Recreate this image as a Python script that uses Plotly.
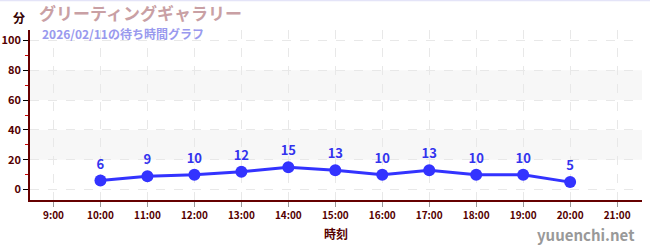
import plotly.graph_objects as go

hours = [10, 11, 12, 13, 14, 15, 16, 17, 18, 19, 20]
waits = [6, 9, 10, 12, 15, 13, 10, 13, 10, 10, 5]
tick_hours = list(range(9, 22))
tick_labels = [f"{h}:00" for h in tick_hours]
y_ticks = [0, 20, 40, 60, 80, 100]
bands = [(20, 40), (60, 80)]

W, H = 650, 250
ML, MR, MT, MB = 30, 8, 30, 50

fig = go.Figure()
for y0, y1 in bands:
    fig.add_hrect(y0=y0, y1=y1, fillcolor="#f7f7f7", line_width=0, layer="below")

fig.add_trace(go.Scatter(
    x=hours, y=waits, mode="lines+markers+text",
    line=dict(color="#3333ff", width=3),
    marker=dict(color="#3333ff", size=12),
    text=[f"<b>{v}</b>" for v in waits], textposition="top center",
    textfont=dict(color="#3333ee", size=13, family="Noto Sans CJK JP"),
    cliponaxis=False, hoverinfo="skip"))

fig.update_layout(
    width=W, height=H, margin=dict(l=ML, r=MR, t=MT, b=MB, autoexpand=False),
    plot_bgcolor="white", paper_bgcolor="white", showlegend=False,
    font=dict(family="Noto Sans CJK JP", color="#550000"),
    xaxis=dict(range=[8.5, 21.53], tickvals=tick_hours,
               ticktext=[f"<b>{t}</b>" for t in tick_labels], automargin=False,
               showgrid=True, gridcolor="#e8e8e8", griddash="dash", gridwidth=1,
               showline=True, linecolor="#660000", linewidth=1.5,
               ticks="outside", tickcolor="#999999", ticklen=5,
               tickfont=dict(size=10, color="#550000"), zeroline=False,
               title=dict(text="<b>時刻</b>", font=dict(size=12, color="#550000"), standoff=10)),
    yaxis=dict(range=[-7, 107], tickvals=y_ticks,
               ticktext=[f"<b>{v}</b>" for v in y_ticks], automargin=False,
               showgrid=True, gridcolor="#e8e8e8", griddash="dash", gridwidth=1,
               showline=True, linecolor="#660000", linewidth=1.5,
               ticks="outside", tickcolor="#000000", ticklen=5,
               minor=dict(tickvals=[10, 30, 50, 70, 90], ticks="outside", ticklen=3,
                          tickcolor="#cc0000", showgrid=False),
               tickfont=dict(size=11, color="#550000"), zeroline=False),
)

# thin lavender border line at the very top of the chart
fig.add_shape(type="line", xref="paper", yref="paper",
              x0=-ML / (W - ML - MR), x1=1 + MR / (W - ML - MR),
              y0=1 + (MT - 0.5) / (H - MT - MB), y1=1 + (MT - 0.5) / (H - MT - MB),
              line=dict(color="#e4e4f8", width=1.5))

ann = [
    dict(text="<b>分</b>", x=19, y=17, size=12, color="#330000", anchor="center"),
    dict(text="<b>グリーティングギャラリー</b>", x=37, y=12.8, size=17, color="#c9a0a4", anchor="left"),
    dict(text="<b>2026/02/11の待ち時間グラフ</b>", x=40, y=33.5, size=12, color="#9999ee", anchor="left"),
    dict(text="<b>yuuenchi.net</b>", x=637, y=234, size=15, color="#999999", anchor="right"),
]
for a in ann:
    fig.add_annotation(text=a["text"],
                       x=(a["x"] - ML) / (W - ML - MR),
                       y=1 - (a["y"] - MT) / (H - MT - MB),
                       xref="paper", yref="paper", showarrow=False,
                       xanchor=a["anchor"], yanchor="middle",
                       font=dict(size=a["size"], color=a["color"], family="Noto Sans CJK JP"))

fig.write_html("out.html")
